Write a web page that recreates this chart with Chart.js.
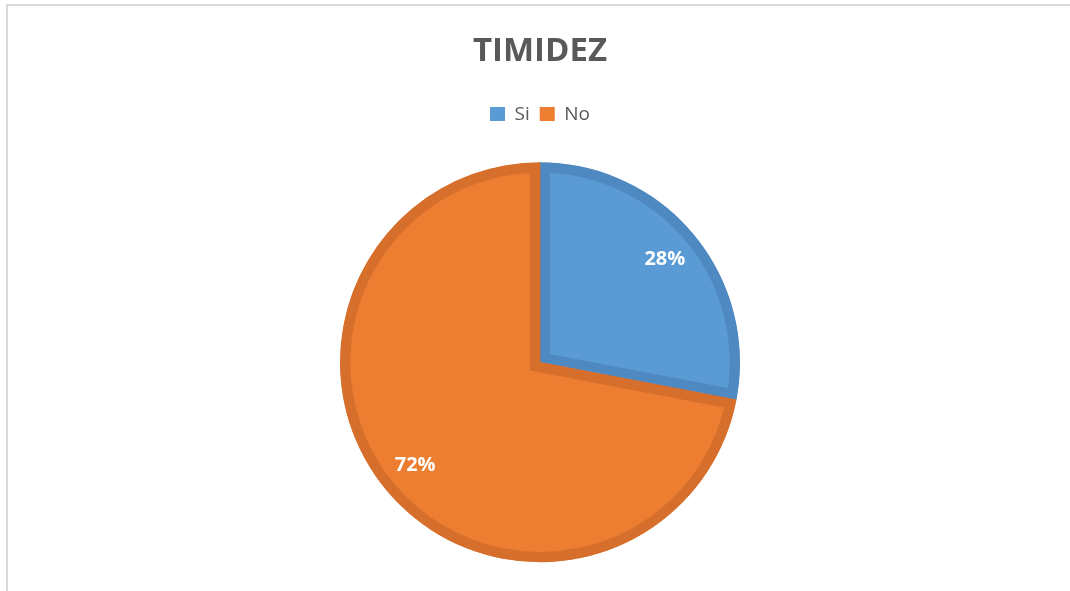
<!DOCTYPE html>
<html>
<head>
<meta charset="utf-8">
<script src="https://cdn.jsdelivr.net/npm/chart.js@4/dist/chart.umd.min.js"></script>
<style>
  html, body { margin: 0; padding: 0; background: #fff; }
  #wrap { position: relative; width: 1070px; height: 591px; }
  #frame {
    position: absolute; left: 6px; top: 4px; right: 0; bottom: 0;
    border-top: 2px solid #d9d9d9; border-left: 2px solid #d9d9d9;
  }
  canvas { position: absolute; left: 0; top: 0; }
</style>
</head>
<body>
<div id="wrap">
  <div id="frame"></div>
  <canvas id="pieChart" width="1070" height="591"></canvas>
</div>
<script>
// chart data
const categories = ['Si', 'No'];
const values = [28, 72];
const pctLabels = ['28%', '72%'];

const fillColors = ['#5b9bd5', '#ed7d31'];
const edgeColors = ['#4f89c1', '#d66f2c'];

// white percentage labels placed along each slice's middle angle
const sliceLabels = {
    id: 'sliceLabels',
    afterDatasetsDraw(chart) {
        const ctx = chart.ctx;
        const meta = chart.getDatasetMeta(0);
        ctx.save();
        ctx.fillStyle = '#ffffff';
        ctx.font = "bold 20px 'Open Sans'";
        ctx.textAlign = 'center';
        ctx.textBaseline = 'middle';
        meta.data.forEach(function(arc, i) {
            const p = arc.getProps(['x', 'y', 'startAngle', 'endAngle', 'outerRadius'], true);
            const mid = (p.startAngle + p.endAngle) / 2;
            const r = p.outerRadius * 0.81;
            ctx.fillText(pctLabels[i], p.x + Math.cos(mid) * r, p.y + Math.sin(mid) * r);
        });
        ctx.restore();
    }
};

const ctx = document.getElementById('pieChart').getContext('2d');
new Chart(ctx, {
    type: 'pie',
    data: {
        labels: categories,
        datasets: [{
            data: values,
            backgroundColor: fillColors,
            borderColor: edgeColors,
            borderWidth: 10,
            borderAlign: 'inner',
            borderJoinStyle: 'miter'
        }]
    },
    options: {
        responsive: false,
        animation: false,
        radius: 200,
        layout: { padding: { left: 340, right: 330, top: 2, bottom: 0 } },
        plugins: {
            title: {
                display: true,
                text: 'TIMIDEZ',
                color: '#595959',
                font: { family: "'Open Sans'", size: 33, weight: 'bold' },
                padding: { top: 30, bottom: 23 }
            },
            legend: {
                display: true,
                labels: {
                    color: '#595959',
                    font: { family: "'Open Sans'", size: 19 },
                    boxWidth: 15,
                    boxHeight: 14,
                    padding: 10,
                    generateLabels(chart) {
                        const items = Chart.overrides.pie.plugins.legend.labels.generateLabels(chart);
                        items.forEach(function(it) {
                            it.lineWidth = 0;
                            it.strokeStyle = it.fillStyle;
                        });
                        return items;
                    }
                }
            },
            tooltip: { enabled: false }
        }
    },
    plugins: [sliceLabels]
});
</script>
</body>
</html>
